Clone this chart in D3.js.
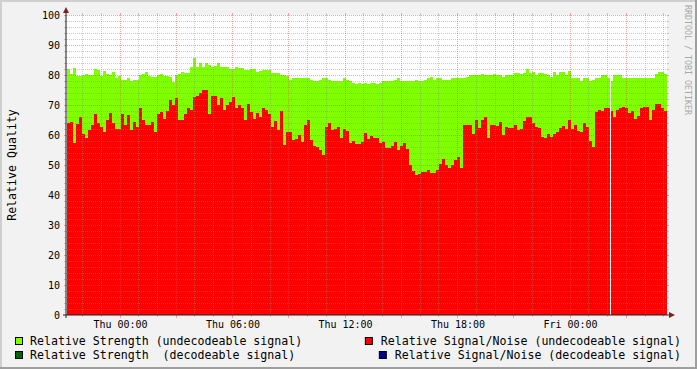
<!DOCTYPE html>
<html>
<head>
<meta charset="utf-8">
<script src="https://cdn.jsdelivr.net/npm/d3@7"></script>
<style>
  html, body { margin: 0; padding: 0; background: #f2f2f2; }
  svg { display: block; }
  text { font-family: "DejaVu Sans Mono", monospace; white-space: pre; }
</style>
</head>
<body>
<script>
// ---- data (one sample per 576 s) ----
var startTime = "2008-01-02T21:12:00Z";
var stepSeconds = 576;

// Relative Strength (undecodeable signal)
var strength = [
  82, 80.5, 82.2, 79.8, 79.8, 80, 80.3, 80, 80, 82,
  81.7, 79.8, 81.5, 80.5, 80, 81, 79, 79.8, 78.5, 78.3,
  79, 78, 78.3, 78.3, 80, 80.5, 81, 79.8, 79.2, 79.5,
  80, 80.5, 79.8, 79.8, 79.4, 77.8, 80, 80.5, 81, 80.8,
  80.6, 82.8, 85.8, 82.8, 83.9, 82.8, 83.9, 83.5, 82.8, 83.1,
  83.9, 82.8, 82.8, 82.8, 82, 82, 82.8, 82.5, 82.2, 81.7,
  81.7, 82, 82, 81.1, 81.5, 81.7, 81.7, 81.7, 80.6, 80.6,
  80.6, 80, 80, 79.8, 78.3, 79.1, 79.1, 79.1, 79.1, 79,
  78.9, 78.5, 78, 78, 78.3, 78.9, 78.9, 78.5, 78, 78,
  78, 78, 78.9, 78.5, 78, 77.5, 77, 77.3, 77, 77.3,
  77, 77.3, 77.5, 77, 77.5, 78, 78, 78, 78, 78.5,
  78.9, 78, 78, 78, 78, 78, 78.3, 78, 78, 78.5,
  79, 79.5, 78.3, 79, 79, 78.5, 78.3, 78.3, 79, 79,
  79, 79, 79, 79.5, 80, 80, 80, 80, 80.3, 80,
  80, 80, 80.3, 80, 80, 79.5, 80, 80, 80, 80.8,
  80.8, 80.5, 80.8, 82, 80.8, 81, 80, 80.8, 80.8, 80.5,
  80, 79.5, 80.9, 80, 80.9, 80.9, 80, 81.3, 79.1, 79.1,
  79.1, 78, 79.1, 79.1, 78, 78.5, 78.9, 79.1, 80, 80,
  79, 78, 80, 80, 80, 79.1, 79.1, 79.1, 79.1, 79.1,
  79.1, 79.1, 79.1, 79.1, 79.1, 79.1, 80.2, 80.9, 80.9, 80.2
];

// Relative Signal/Noise (undecodeable signal)
var signalNoise = [
  64, 64.4, 57.5, 63.7, 66, 60.3, 58.9, 61.7, 63.3, 66.9,
  63.9, 62.8, 61.1, 65, 67.2, 63.9, 62, 62, 66.9, 63.5,
  66.7, 61.7, 64.5, 62.8, 68.9, 65, 63.3, 63.5, 64.4, 61.1,
  66.9, 67.8, 65.5, 68, 71.7, 70, 72.2, 65, 65, 67,
  69, 68.3, 72.8, 73, 74, 75, 75, 67, 73, 73,
  70, 72.2, 68.3, 70, 71.1, 72.8, 68.9, 70, 68.9, 65,
  70.2, 67.8, 65.5, 67.2, 66, 68.9, 68.3, 66.9, 62.8, 64.7,
  61.7, 68, 56.7, 61, 61.1, 58.5, 58.7, 60, 57.6, 63.5,
  65, 58.5, 56.4, 56, 55, 53.5, 62.8, 63.9, 61.7, 62,
  62.8, 58.9, 62, 61.3, 57.2, 58, 56.9, 56.9, 57.8, 60.8,
  58.7, 59.8, 58.9, 58.9, 57.2, 57.8, 55.8, 55.6, 56.5, 57.6,
  55, 56.3, 57.2, 55.5, 50, 48, 46.7, 47, 47.8, 47.8,
  48.2, 47.2, 47.2, 48.5, 50.5, 52, 50, 48.9, 50, 51.7,
  52.8, 48.9, 63.3, 63.3, 63.3, 60.5, 65, 62.2, 65, 66,
  58.9, 63.5, 63.5, 63.1, 64.4, 60, 62.8, 62.2, 62.2, 63.3,
  61.7, 62, 64.7, 66.1, 66, 63.9, 62.8, 62.5, 59.4, 59,
  60.5, 59.4, 60.5, 61.1, 62.2, 63, 62, 65, 62, 63.5,
  61.5, 61.1, 64, 62.8, 58, 56, 67.8, 68.5, 68, 69.1,
  69.1, 68, 66, 68.3, 68.9, 69.5, 69, 67.2, 68, 65.3,
  66.5, 69.1, 69.5, 69.5, 65, 68.5, 70.5, 70.3, 68.9, 68
];

// intervals with no data: [start, seconds]
var unknownIntervals = [["2008-01-04T02:09:36Z", 192]];

var yTicks = [0, 10, 20, 30, 40, 50, 60, 70, 80, 90, 100];
var yTitle = "Relative Quality";
var watermark = "RRDTOOL / TOBI OETIKER";

var legendLeft = ["Relative Strength (undecodeable signal)", "Relative Strength  (decodeable signal)"];
var legendRight = ["Relative Signal/Noise (undecodeable signal)", "Relative Signal/Noise (decodeable signal)"];

// ---- styles ----
var colStrength = "#80ff00", colSN = "#ff0000";
var colStrengthDec = "#006400", colSNDec = "#000090";
var gridMinor = "rgba(140,140,140,0.45)", gridMajor = "rgba(222,80,80,0.5)";

var W = 697, H = 369;
var plot = {left: 67, right: 667, top: 15, bottom: 315};

var svg = d3.select("body").append("svg")
    .attr("width", W)
    .attr("height", H);

// frame
svg.append("rect").attr("width", W).attr("height", H).attr("fill", "#f2f2f2");
svg.append("rect").attr("width", W).attr("height", 2).attr("fill", "#cfcfcf");
svg.append("rect").attr("width", 2).attr("height", H).attr("fill", "#cfcfcf");
svg.append("rect").attr("y", H - 2).attr("width", W).attr("height", 2).attr("fill", "#9e9e9e");
svg.append("rect").attr("x", W - 2).attr("width", 2).attr("height", H).attr("fill", "#9e9e9e");

var t0 = new Date(startTime);
var t1 = new Date(+t0 + strength.length * stepSeconds * 1000);

var x = d3.scaleUtc().domain([t0, t1]).range([plot.left, plot.right]);
var y = d3.scaleLinear().domain([0, 100]).range([plot.bottom, plot.top]);

// canvas
svg.append("rect")
    .attr("x", plot.left).attr("y", plot.top)
    .attr("width", plot.right - plot.left).attr("height", plot.bottom - plot.top)
    .attr("fill", "#fff");

var samples = strength.map(function(s, i) {
  var t = new Date(+t0 + i * stepSeconds * 1000);
  return {t: t, t2: new Date(+t + stepSeconds * 1000), s: s, n: signalNoise[i]};
});

var bars = svg.append("g").attr("shape-rendering", "crispEdges");

bars.selectAll("rect.s").data(samples).enter().append("rect")
    .attr("class", "s")
    .attr("x", function(d) { return x(d.t); })
    .attr("width", function(d) { return x(d.t2) - x(d.t); })
    .attr("y", function(d) { return y(d.s); })
    .attr("height", function(d) { return y(0) - y(d.s); })
    .attr("fill", colStrength);

bars.selectAll("rect.n").data(samples).enter().append("rect")
    .attr("class", "n")
    .attr("x", function(d) { return x(d.t); })
    .attr("width", function(d) { return x(d.t2) - x(d.t); })
    .attr("y", function(d) { return y(d.n); })
    .attr("height", function(d) { return y(0) - y(d.n); })
    .attr("fill", colSN);

// unknown data shows the canvas
bars.selectAll("rect.u").data(unknownIntervals).enter().append("rect")
    .attr("x", function(d) { return Math.round(x(new Date(d[0]))); })
    .attr("width", function(d) {
      var a = new Date(d[0]);
      return Math.max(1, Math.round(x(new Date(+a + d[1] * 1000)) - x(a)));
    })
    .attr("y", plot.top).attr("height", plot.bottom - plot.top)
    .attr("fill", "#fff");

// ---- grid ----
var grid = svg.append("g").attr("shape-rendering", "crispEdges");

// horizontal
d3.range(2, 101, 2).forEach(function(v) {
  var major = v % 10 === 0;
  var yy = Math.round(y(v)) + 0.5;
  var c = major ? gridMajor : gridMinor;
  grid.append("line").attr("x1", plot.left).attr("x2", plot.right)
      .attr("y1", yy).attr("y2", yy)
      .attr("stroke", c).attr("stroke-dasharray", "1,1");
  grid.append("line").attr("x1", plot.left - 3).attr("x2", plot.left)
      .attr("y1", yy).attr("y2", yy).attr("stroke", c);
  grid.append("line").attr("x1", plot.right).attr("x2", plot.right + 2)
      .attr("y1", yy).attr("y2", yy).attr("stroke", c);
});

// vertical
d3.utcHour.range(d3.utcHour.ceil(t0), t1).forEach(function(h) {
  var major = h.getUTCHours() % 3 === 0;
  var xx = Math.round(x(h)) + 0.5;
  var c = major ? gridMajor : gridMinor;
  grid.append("line").attr("x1", xx).attr("x2", xx)
      .attr("y1", plot.top).attr("y2", plot.bottom)
      .attr("stroke", c).attr("stroke-dasharray", "1,1");
  grid.append("line").attr("x1", xx).attr("x2", xx)
      .attr("y1", plot.bottom).attr("y2", plot.bottom + (major ? 3 : 2)).attr("stroke", c);
  grid.append("line").attr("x1", xx).attr("x2", xx)
      .attr("y1", plot.top - 2).attr("y2", plot.top).attr("stroke", c);
});

// ---- axes ----
var axisCol = "#202020", arrowCol = "#7f1f1f";
svg.append("line").attr("x1", plot.left - 1).attr("x2", plot.left - 1)
    .attr("y1", plot.bottom + 3).attr("y2", plot.top - 5)
    .attr("stroke", axisCol);
svg.append("line").attr("x1", plot.left - 4).attr("x2", plot.right + 4)
    .attr("y1", plot.bottom).attr("y2", plot.bottom)
    .attr("stroke", axisCol);
svg.append("path")
    .attr("d", "M" + (plot.left - 4) + "," + (plot.top - 2) + "L" + (plot.left - 1) + "," + (plot.top - 8) +
               "L" + (plot.left + 2) + "," + (plot.top - 2) + "Z")
    .attr("fill", arrowCol);
svg.append("path")
    .attr("d", "M" + (plot.right + 2) + "," + (plot.bottom - 3) + "L" + (plot.right + 8) + "," + plot.bottom +
               "L" + (plot.right + 2) + "," + (plot.bottom + 3) + "Z")
    .attr("fill", arrowCol);

// y labels
svg.append("g").selectAll("text").data(yTicks).enter().append("text")
    .attr("x", 60)
    .attr("y", function(d) { return y(d) + 3.6; })
    .attr("text-anchor", "end")
    .attr("font-size", "10px")
    .attr("fill", "#000")
    .text(function(d) { return d; });

// x labels
var fmt = d3.utcFormat("%a %H:%M");
var labelHours = d3.utcHour.every(6).range(t0, t1);
svg.append("g").selectAll("text").data(labelHours).enter().append("text")
    .attr("x", function(d) { return x(d) + 1; })
    .attr("y", 328)
    .attr("text-anchor", "middle")
    .attr("font-size", "10px")
    .attr("fill", "#000")
    .text(function(d) { return fmt(d); });

// y title
svg.append("text")
    .attr("transform", "translate(16,165) rotate(-90)")
    .attr("text-anchor", "middle")
    .attr("font-size", "11.6px")
    .attr("fill", "#000")
    .text(yTitle);

// watermark
svg.append("text")
    .attr("transform", "translate(685,5) rotate(90)")
    .attr("font-size", "8.3px")
    .attr("fill", "#a8a8a8")
    .text(watermark);

// ---- legend ----
var leg = svg.append("g").attr("font-size", "11.6px");
var leftCols = [colStrength, colStrengthDec];
var rightCols = [colSN, colSNDec];

legendLeft.forEach(function(name, i) {
  var by = 337 + i * 14;
  leg.append("rect").attr("x", 15.5).attr("y", by + 0.5).attr("width", 7).attr("height", 7)
      .attr("fill", leftCols[i]).attr("stroke", "#000");
  leg.append("text").attr("x", 30).attr("y", by + 8).text(name);
});

legendRight.forEach(function(name, i) {
  var by = 337 + i * 14;
  var t = leg.append("text").attr("x", 681).attr("y", by + 8).attr("text-anchor", "end").text(name);
  var w = t.node().getComputedTextLength();
  leg.append("rect").attr("x", 681 - w - 15.5).attr("y", by + 0.5).attr("width", 7).attr("height", 7)
      .attr("fill", rightCols[i]).attr("stroke", "#000");
});
</script>
</body>
</html>
